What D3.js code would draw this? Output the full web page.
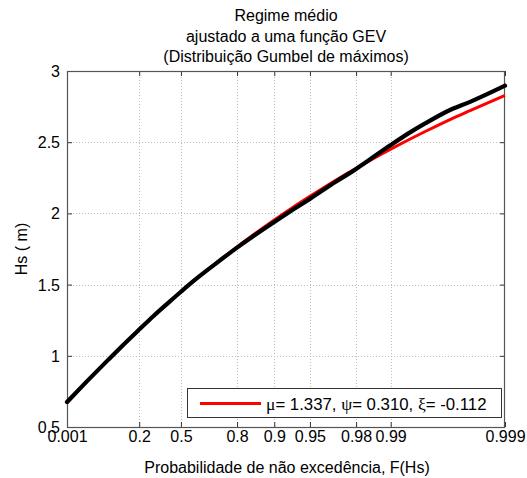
<!DOCTYPE html>
<html><head><meta charset="utf-8">
<script src="https://cdn.jsdelivr.net/npm/d3@7"></script>
<style>
body{margin:0;background:#fff}
svg{display:block}
text{font-family:Arial,"Liberation Sans",Helvetica,sans-serif;fill:#000}
</style></head>
<body><svg id="c" width="527" height="478"></svg>
<script>
// ---- data ----
const titleLines = ["Regime médio", "ajustado a uma função GEV", "(Distribuição Gumbel de máximos)"];
const xLabel = "Probabilidade de não excedência, F(Hs)";
const yLabel = "Hs ( m)";
const probTicks = [0.001, 0.2, 0.5, 0.8, 0.9, 0.95, 0.98, 0.99, 0.999];
const probTickLabels = ["0.001", "0.2", "0.5", "0.8", "0.9", "0.95", "0.98", "0.99", "0.999"];
const hsTicks = [0.5, 1, 1.5, 2, 2.5, 3];
const hsTickLabels = ["0.5", "1", "1.5", "2", "2.5", "3"];
// fitted GEV curve (red)
const fitF  = [0.001, 0.01, 0.05, 0.1, 0.2, 0.3, 0.4, 0.5, 0.6, 0.7, 0.8, 0.85, 0.9, 0.93, 0.95, 0.97, 0.98, 0.985, 0.99, 0.995, 0.997, 0.998, 0.999];
const fitHs = [0.668, 0.821, 0.975, 1.066, 1.185, 1.279, 1.364, 1.448, 1.538, 1.639, 1.765, 1.847, 1.954, 2.042, 2.120, 2.233, 2.317, 2.374, 2.451, 2.575, 2.661, 2.723, 2.828];
// empirical regime (black)
const obsF  = [0.001, 0.01, 0.05, 0.1, 0.2, 0.3, 0.4, 0.5, 0.6, 0.7, 0.8, 0.85, 0.9, 0.93, 0.95, 0.97, 0.98, 0.985, 0.99, 0.993, 0.995, 0.997, 0.998, 0.999];
const obsHs = [0.676, 0.822, 0.973, 1.064, 1.184, 1.280, 1.365, 1.450, 1.540, 1.637, 1.760, 1.838, 1.940, 2.025, 2.102, 2.222, 2.312, 2.382, 2.480, 2.562, 2.632, 2.728, 2.785, 2.897];
const legendText = [["μ", true], ["= 1.337, ", false], ["ψ", true], ["= 0.310, ", false], ["ξ", true], ["= -0.112", false]];

// ---- layout ----
const L = 67, R = 505, T = 71, B = 427;
const svg = d3.select("#c");
const gumbel = F => -Math.log(-Math.log(F));
const xs = d3.scaleLinear().domain([gumbel(0.001), gumbel(0.999)]).range([L, R]);
const x = F => xs(gumbel(F));
const y = d3.scaleLinear().domain([0.5, 3]).range([B, T]);

svg.append("rect").attr("x", 0).attr("y", 0).attr("width", 527).attr("height", 478).attr("fill", "#fff");

// grid
const grid = svg.append("g").attr("stroke", "#bdbdbd").attr("stroke-width", 1).attr("stroke-dasharray", "1,2");
probTicks.slice(1, -1).forEach(p => {
  grid.append("line").attr("x1", Math.round(x(p)) + 0.5).attr("x2", Math.round(x(p)) + 0.5).attr("y1", T).attr("y2", B);
});
hsTicks.slice(1, -1).forEach(h => {
  grid.append("line").attr("x1", L).attr("x2", R).attr("y1", Math.round(y(h)) + 0.5).attr("y2", Math.round(y(h)) + 0.5);
});

// axes (ticks inward, mirrored)
const fmtX = (d, i) => probTickLabels[i];
const gBottom = svg.append("g").attr("transform", `translate(0,${B})`)
  .call(d3.axisBottom(xs).tickValues(probTicks.map(gumbel)).tickSizeInner(-5).tickSizeOuter(0).tickPadding(8).tickFormat(fmtX));
const gTop = svg.append("g").attr("transform", `translate(0,${T})`)
  .call(d3.axisTop(xs).tickValues(probTicks.map(gumbel)).tickSizeInner(-5).tickSizeOuter(0).tickFormat(""));
const gLeft = svg.append("g").attr("transform", `translate(${L},0)`)
  .call(d3.axisLeft(y).tickValues(hsTicks).tickSizeInner(-5).tickSizeOuter(0).tickPadding(7).tickFormat((d, i) => hsTickLabels[i]));
const gRight = svg.append("g").attr("transform", `translate(${R},0)`)
  .call(d3.axisRight(y).tickValues(hsTicks).tickSizeInner(-5).tickSizeOuter(0).tickFormat(""));
[gBottom, gTop, gLeft, gRight].forEach(g => {
  g.select(".domain").remove();
  g.selectAll(".tick line").attr("stroke", "#333");
  g.selectAll("text").style("font-size", "16px").attr("fill", "#000");
});
gBottom.selectAll("text").attr("dy", "0.71em").attr("y", 4);
gLeft.selectAll("text").attr("dy", "0.34em");

// frame
svg.append("rect").attr("x", L + 0.5).attr("y", T + 0.5).attr("width", R - L - 1).attr("height", B - T)
  .attr("fill", "none").attr("stroke", "#555").attr("stroke-width", 1.2);

// curves
const lineF = (fs, hs) => d3.line().curve(d3.curveMonotoneX)(fs.map((f, i) => [x(f), y(hs[i])]));
svg.append("path").attr("d", lineF(fitF, fitHs)).attr("fill", "none").attr("stroke", "#ff0000").attr("stroke-width", 3);
svg.append("path").attr("d", lineF(obsF, obsHs)).attr("fill", "none").attr("stroke", "#000").attr("stroke-width", 4.2).attr("stroke-linecap", "round");

// title
svg.append("g").selectAll("text").data(titleLines).join("text")
  .attr("x", 286).attr("y", (d, i) => 21 + i * 20.7).attr("text-anchor", "middle").style("font-size", "16px").text(d => d);

// axis labels
svg.append("text").attr("x", (L + R) / 2 + 1).attr("y", 473).attr("text-anchor", "middle").style("font-size", "16px").text(xLabel);
svg.append("text").attr("transform", `translate(27,${(T + B) / 2}) rotate(-90)`).attr("text-anchor", "middle").style("font-size", "16px").text(yLabel);

// legend
svg.append("rect").attr("x", 187.5).attr("y", 388.5).attr("width", 314).attr("height", 29).attr("fill", "#fff").attr("stroke", "#333").attr("stroke-width", 1);
svg.append("line").attr("x1", 200).attr("x2", 261).attr("y1", 403.5).attr("y2", 403.5).attr("stroke", "#ff0000").attr("stroke-width", 3);
const lt = svg.append("text").attr("x", 266).attr("y", 409.5).style("font-size", "16.8px");
legendText.forEach(([t, greek]) => {
  const s = lt.append("tspan").text(t);
  if (greek) s.style("font-family", "'Liberation Serif','Times New Roman',serif").style("font-size", "17.5px");
});
</script></body></html>
